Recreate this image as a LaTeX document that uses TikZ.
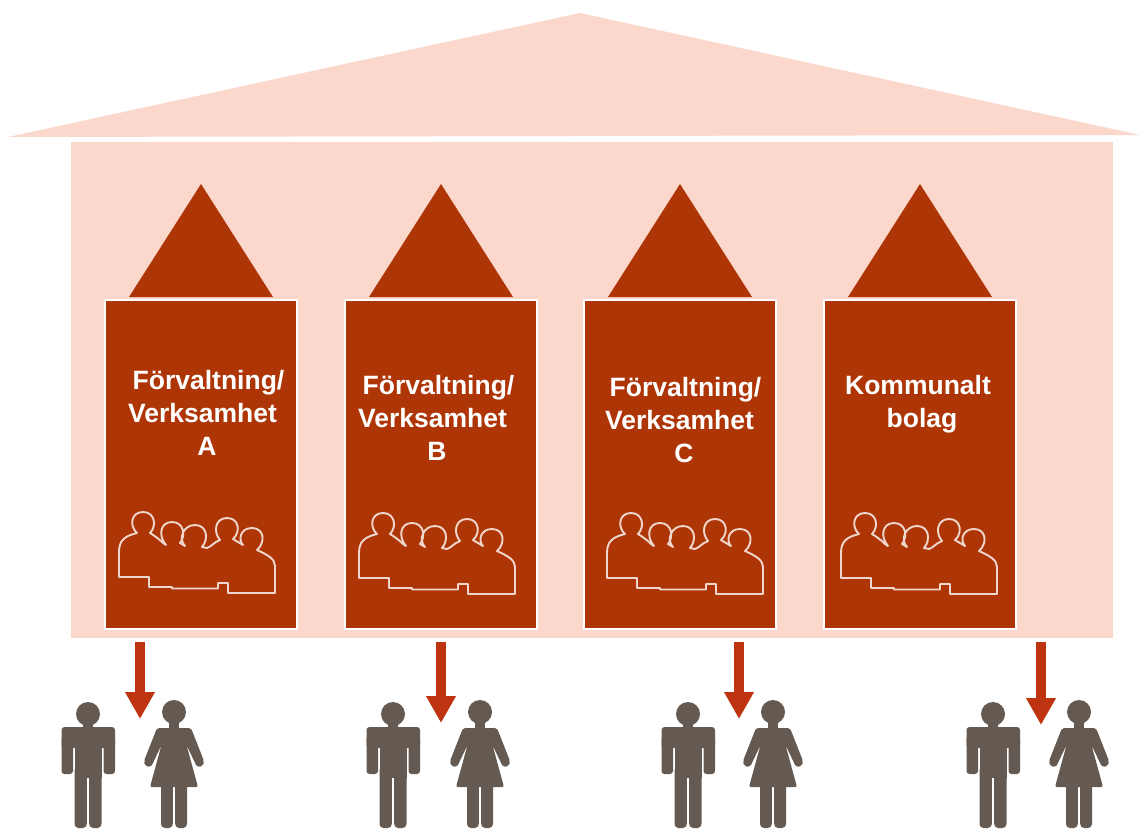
\documentclass[tikz,border=0pt]{standalone}
\usepackage{fontspec}
\setmainfont{Liberation Sans}
\usetikzlibrary{arrows.meta}
\definecolor{pale}{HTML}{FCD7CB}
\definecolor{rust}{HTML}{AE3506}
\definecolor{arrowred}{HTML}{BF3410}
\definecolor{figure}{HTML}{655A52}
\tikzset{
  x=1pt,y=-1pt,
  unit/.style={fill=rust,draw=white,line width=1.6pt,minimum width=192pt,minimum height=329pt,inner sep=0pt,outer sep=0pt},
  unitroof/.style={fill=rust},
  label/.style={text=white,font=\fontsize{26.5}{33}\selectfont\bfseries,align=center,inner sep=0pt},
  flow/.style={draw=arrowred,line width=10pt,-{Triangle[width=28pt,length=27pt,fill=arrowred]}},
  person/.style={fill=figure},
  group/.pic={
    \draw[white!80!rust,line width=1.9pt,line join=round]
      (19,87) -- (49,87) -- (49,97) -- (72,97) -- (72,98.5) -- (118,98.5) -- (118,93) -- (128,93) -- (128,103) -- (175,103) -- (175,76)
      .. controls (175,69) and (168,65) .. (157,60)
      .. controls (166,52) and (164,38) .. (152,38)
      .. controls (140,38) and (138,50) .. (143,55)
      -- (133,49)
      .. controls (141,42) and (139,28) .. (127,28)
      .. controls (115,28) and (113,42) .. (120,50)
      .. controls (114,52) and (111,57) .. (107,58)
      -- (102,57)
      .. controls (109,49) and (107,35) .. (95,35)
      .. controls (83,35) and (78,49) .. (85,56)
      -- (80,53)
      .. controls (86,46) and (84,32) .. (72,32)
      .. controls (60,32) and (58,46) .. (66,55)
      -- (63,53)
      .. controls (59,49) and (55,46) .. (50,43)
      .. controls (57,36) and (55,22) .. (43,22)
      .. controls (31,22) and (29,36) .. (37,43)
      .. controls (25,46) and (19,50) .. (19,62) -- cycle;
  },
  man/.pic={
    \fill[person] (0,-12) circle (12);
    \fill[person,rounded corners=3pt] (-26.5,1) rectangle (27,22);
    \fill[person,rounded corners=3pt] (-26.5,10) rectangle (-15,48);
    \fill[person,rounded corners=3pt] (15.5,10) rectangle (27,48);
    \fill[person] (-13.5,5) rectangle (13.5,52);
    \fill[person,rounded corners=4pt] (-13.5,40) rectangle (-1.2,102);
    \fill[person,rounded corners=4pt] (1.2,40) rectangle (13.5,102);
    \fill[person] (-5,-4) rectangle (5,4);
  },
  woman/.pic={
    \fill[person] (0,-15) circle (12);
    \fill[person,rounded corners=2pt] (-17,1) -- (-30,34) -- (-29,39) -- (-23,40) -- (-12.5,18) -- (-24,60) -- (24,60) -- (12.5,18) -- (23,40) -- (29,39) -- (30,34) -- (17,1) -- cycle;
    \fill[person,rounded corners=4pt] (-13,50) rectangle (-1.2,101);
    \fill[person,rounded corners=4pt] (1.2,50) rectangle (13,101);
    \fill[person] (-5,-6) rectangle (5,3);
  }
}
\begin{document}
\begin{tikzpicture}
\useasboundingbox (0,0) rectangle (1140,829);
\fill[white] (0,0) rectangle (1140,829);
\fill[pale] (8,137) -- (580,13) -- (1140,135) -- cycle;
\fill[pale] (71,142) rectangle (1113,638);
% units
\foreach \ax in {201,441,680,920}{
  \fill[unitroof] (\ax-72,297) -- (\ax,184) -- (\ax+72,297) -- cycle;
}
\node[unit] (boxa) at (201,464.5) {};
\node[unit] (boxb) at (441,464.5) {};
\node[unit] (boxc) at (680,464.5) {};
\node[unit] (boxd) at (920,464.5) {};
\node[label] (la) at (202.5,413) {\hspace*{12pt}Förvaltning/\\Verksamhet\\\hspace*{9pt}A};
\node[label] (lb) at (432.5,418) {\hspace*{12pt}Förvaltning/\\Verksamhet\\\hspace*{9pt}B};
\node[label] (lc) at (679.5,420) {\hspace*{12pt}Förvaltning/\\Verksamhet\\\hspace*{9pt}C};
\node[label] (ld) at (918,404) {Kommunalt\\\hspace*{8pt}bolag};
\pic at (100,490) {group};
\pic at (340,491) {group};
\pic at (588,491) {group};
\pic at (822,491) {group};
% arrows
\coordinate (s1) at (140,642); \coordinate (e1) at (140,719);
\coordinate (s2) at (441,642); \coordinate (e2) at (441,723);
\coordinate (s3) at (739,642); \coordinate (e3) at (739,719);
\coordinate (s4) at (1041,642); \coordinate (e4) at (1041,725);
\draw[flow] (s1) -- (e1);
\draw[flow] (s2) -- (e2);
\draw[flow] (s3) -- (e3);
\draw[flow] (s4) -- (e4);
% people
\pic at (88,726) {man};
\pic at (393,726) {man};
\pic at (688,726) {man};
\pic at (993,726) {man};
\pic at (174,727) {woman};
\pic at (480,727) {woman};
\pic at (773,727) {woman};
\pic at (1079,727) {woman};
\end{tikzpicture}
\end{document}
